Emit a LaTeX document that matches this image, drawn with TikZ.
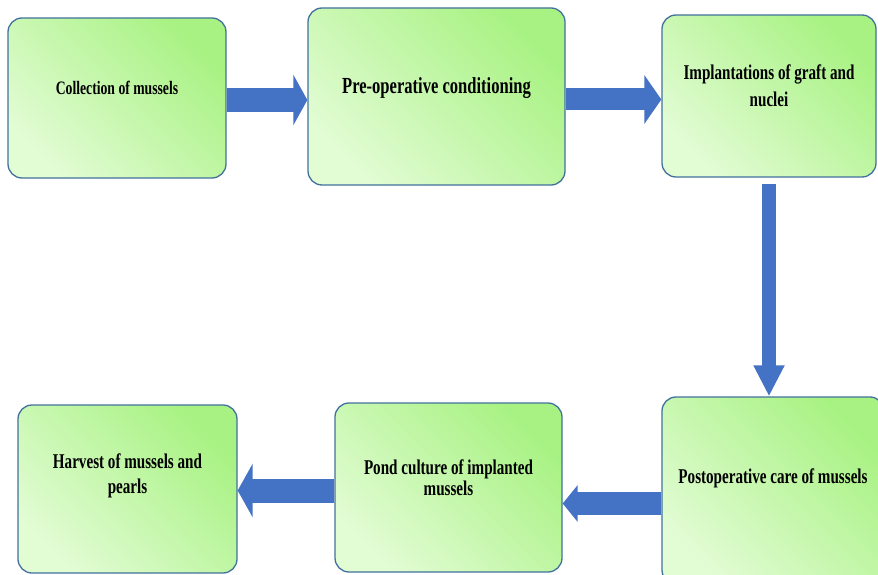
\documentclass[tikz,border=0pt]{standalone}
\usepackage{fontspec}
\setmainfont{Liberation Serif}[FakeStretch=0.72]
\usetikzlibrary{arrows.meta}

\definecolor{boxline}{HTML}{41719C}
\definecolor{boxgreen}{HTML}{A8F283}
\definecolor{boxpale}{HTML}{E2FCD4}
\definecolor{arrowblue}{HTML}{4472C4}

\tikzset{
  stage/.style={rounded corners=14pt, draw=boxline, line width=1.3pt,
    top color=boxgreen, bottom color=boxpale, shading angle=-45},
  caption/.style={font=\bfseries\fontsize{21}{25}\selectfont, align=center},
  flow/.style n args={3}{draw=arrowblue, line width=#1,
    -{Triangle[width=#2,length=#3]}}
}

\begin{document}
\begin{tikzpicture}[x=1pt, y=-1pt]
    \useasboundingbox (0,0) rectangle (878,575);

    % stages
    \node[stage, minimum width=218pt, minimum height=160pt] (c1) at (117,98) {};
    \node[stage, minimum width=257pt, minimum height=177pt] (c2) at (436.5,96.5) {};
    \node[stage, minimum width=214pt, minimum height=162pt] (c3) at (769,96) {};
    \node[stage, minimum width=222pt, minimum height=187pt] (c4) at (773,490.5) {};
    \node[stage, minimum width=227pt, minimum height=169pt] (c5) at (448.5,487.5) {};
    \node[stage, minimum width=219pt, minimum height=168pt] (c6) at (127.5,489) {};

    \node[caption, font=\bfseries\fontsize{19}{24}\selectfont] (t1) at ([yshift=10pt]c1.center) {Collection of mussels};
    \node[caption, font=\bfseries\fontsize{23}{28}\selectfont] (t2) at ([yshift=8pt]c2.center) {Pre-operative conditioning};
    \node[caption, font=\bfseries\fontsize{21}{27}\selectfont] (t3) at ([yshift=10pt]c3.center) {Implantations of graft and\\ nuclei};
    \node[caption] (t4) at ([yshift=12pt]c4.center) {Postoperative care of mussels};
    \node[caption, font=\bfseries\fontsize{21}{21}\selectfont] (t5) at ([yshift=10pt]c5.center) {Pond culture of implanted\\ mussels};
    \node[caption] (t6) at ([yshift=13pt]c6.center) {Harvest of mussels and\\ pearls};

    % block arrows
    \draw[flow={24pt}{50pt}{14pt}] ([yshift=-2pt]c1.east) -- ([yshift=-2pt]c1.east -| c2.west);
    \draw[flow={22pt}{48pt}{17pt}] ([yshift=-3pt]c2.east) -- ([yshift=-3pt]c2.east -| c3.west);
    \draw[flow={14pt}{29pt}{31pt}] ([yshift=-6pt]c3.south) -- (c3.south |- c4.north);
    \draw[flow={23pt}{36pt}{15pt}] ([yshift=-13pt]c4.west) -- ([yshift=-13pt]c4.west -| c5.east);
    \draw[flow={24pt}{53pt}{15pt}] ([yshift=-3pt]c5.west) -- ([yshift=-3pt]c5.west -| c6.east);
\end{tikzpicture}
\end{document}
